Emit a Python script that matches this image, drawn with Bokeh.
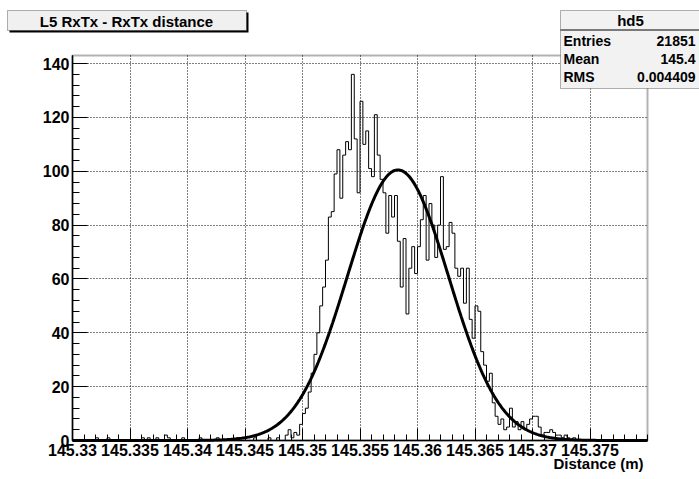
import numpy as np
from bokeh.plotting import figure
from bokeh.models import FixedTicker, CustomJSTickFormatter, Label, BoxAnnotation, Range1d
from bokeh.embed import file_html
from bokeh.resources import INLINE

FONT = "Liberation Sans"

# ---- data ----
bin_start = 145.33
bin_width = 0.00025
counts = [
    0, 0, 0, 0, 0, 0, 0, 0, 1, 0, 0, 0, 1, 0, 0, 0, 0, 0, 0, 0,
    0, 0, 0, 0, 1, 0, 1, 0, 0, 1, 0, 0, 2, 1, 0, 0, 0, 0, 1, 0,
    0, 0, 0, 0, 1, 0, 0, 0, 0, 0, 1, 0, 0, 0, 0, 0, 0, 1, 0, 0,
    0, 0, 0, 1, 0, 0, 0, 0, 1, 0, 0, 1, 0, 0, 2, 4, 1, 3, 2, 6,
    10, 12, 18, 25, 32, 40, 50, 57, 67, 83, 85, 99, 108, 90, 106, 111, 108, 136, 112, 92,
    126, 110, 115, 101, 98, 121, 106, 97, 92, 77, 91, 83, 91, 74, 57, 75, 47, 64, 72, 62,
    72, 82, 91, 67, 88, 80, 68, 80, 98, 71, 72, 81, 77, 64, 61, 64, 51, 64, 45, 38,
    50, 48, 33, 28, 22, 25, 14, 9, 6, 8, 4, 5, 12, 5, 7, 4, 7, 4, 6, 8,
    9, 9, 5, 2, 3, 3, 4, 3, 2, 2, 1, 2, 1, 0, 1, 0, 0, 0, 0, 0,
    0, 0, 0, 0, 0, 0, 0, 0, 0, 0, 0, 0, 0, 0, 0, 0, 0, 0, 0, 0,
]

fit_amplitude = 100.5
fit_mean = 145.3583
fit_sigma = 0.0044

x_ticks = [145.33, 145.335, 145.34, 145.345, 145.35, 145.355, 145.36, 145.365, 145.37, 145.375]
y_ticks = [0, 20, 40, 60, 80, 100, 120, 140]

title_text = "L5 RxTx - RxTx distance"
stats_name = "hd5"
stats_labels = ["Entries", "Mean", "RMS"]
stats_values = ["21851", "145.4", "0.004409"]
x_label = "Distance (m)"

x_min, x_max = 145.33, 145.38
y_min, y_max = 0, 143

# ---- layout: the frame covers the whole canvas; the data box sits at px [72,647] x [55,440] ----
W, H = 699, 479
FL, FR, FT, FB = 72, 647, 55, 440
xs_per_px = (x_max - x_min) / (FR - FL)
ys_per_px = (y_max - y_min) / (FB - FT)
x_range = Range1d(x_min - FL * xs_per_px, x_max + (W - FR) * xs_per_px)
y_range = Range1d(y_min - (H - FB) * ys_per_px, y_max + FT * ys_per_px)

p = figure(width=W, height=H, min_border=0,
           min_border_left=0, min_border_right=0, min_border_top=0, min_border_bottom=0,
           x_range=x_range, y_range=y_range,
           output_backend="svg", toolbar_location=None)
p.background_fill_color = "white"
p.border_fill_color = "white"
p.outline_line_color = None

# histogram outline
edges = bin_start + bin_width * np.arange(len(counts) + 1)
hx = np.concatenate([[edges[0]], np.repeat(edges, 2)[1:-1], [edges[-1]]])
hy = np.concatenate([[0], np.repeat(np.array(counts, dtype=float), 2), [0]])
p.line(hx, hy, line_color="black", line_width=1)

# gaussian fit
fx = np.linspace(x_min, x_max, 600)
fy = fit_amplitude * np.exp(-0.5 * ((fx - fit_mean) / fit_sigma) ** 2)
p.line(fx, fy, line_color="black", line_width=3)

# axes (fixed inside the full-canvas frame)
minor_x = [round(145.33 + 0.001 * i, 3) for i in range(51)]
minor_y = list(range(0, 144, 4))
p.xaxis.ticker = FixedTicker(ticks=x_ticks, minor_ticks=minor_x)
p.yaxis.ticker = FixedTicker(ticks=y_ticks, minor_ticks=minor_y)
p.xaxis.formatter = CustomJSTickFormatter(code="return tick.toFixed(3).replace(/0$/, '');")
p.xaxis.fixed_location = y_min
p.yaxis.fixed_location = x_min
p.xaxis.bounds = (x_min, x_max)
p.yaxis.bounds = (y_min, y_max)

for ax, maj, mnr, stand in ((p.xaxis, 12, 6, 3), (p.yaxis, 15, 7, 3)):
    ax.major_tick_in = maj
    ax.major_tick_out = 0
    ax.minor_tick_in = mnr
    ax.minor_tick_out = 0
    ax.axis_line_color = "black"
    ax.axis_line_width = 1.5
    ax.major_tick_line_color = "black"
    ax.minor_tick_line_color = "black"
    ax.major_label_text_font = FONT
    ax.major_label_text_font_style = "bold"
    ax.major_label_text_font_size = "16px"
    ax.major_label_text_color = "black"
    ax.major_label_standoff = stand

p.xgrid.bounds = (x_min, x_max)
p.ygrid.bounds = (y_min, y_max)
p.xgrid.cross_bounds = (y_min, y_max)
p.ygrid.cross_bounds = (x_min, x_max)
for g in (p.xgrid, p.ygrid):
    g.grid_line_color = "black"
    g.grid_line_dash = "1 2"
    g.grid_line_width = 1

# data frame outline
p.add_layout(BoxAnnotation(left=x_min, right=x_max, bottom=y_min, top=y_max,
                           fill_alpha=0, line_color="black", line_width=2))

def cbox(l, r, t, b, **kw):
    return BoxAnnotation(left=l, right=r, top=t, bottom=b,
                         left_units="canvas", right_units="canvas",
                         top_units="canvas", bottom_units="canvas", **kw)

def ctext(x, y, text, align, size):
    return Label(x=x, y=y, x_units="canvas", y_units="canvas", text=text,
                 text_align=align, text_baseline="middle", text_font=FONT,
                 text_font_style="bold", text_font_size=size, text_color="black")

# title box (with shadow)
p.add_layout(cbox(9, 248, 12, 32, fill_color="black", fill_alpha=1, line_alpha=0))
p.add_layout(cbox(7, 246, 10, 30, fill_color="#f0f0f0", fill_alpha=1, line_color="black", line_width=1))
p.add_layout(ctext(126, 20.5, title_text, "center", "15px"))

# stats box
p.add_layout(cbox(560, 702, 10, 88, fill_color="#f2f2f2", fill_alpha=1, line_color="black", line_width=1))
p.add_layout(cbox(560, 702, 29, 30, fill_color="black", fill_alpha=1, line_alpha=0))
p.add_layout(ctext(630, 19.5, stats_name, "center", "15px"))
for i, (lab, val) in enumerate(zip(stats_labels, stats_values)):
    yy = 40 + 18 * i
    p.add_layout(ctext(563, yy, lab, "left", "14px"))
    p.add_layout(ctext(695, yy, val, "right", "14px"))

# x axis title
p.add_layout(ctext(643, 462.5, x_label, "right", "15px"))

open("out.html", "w").write(file_html(p, INLINE))
